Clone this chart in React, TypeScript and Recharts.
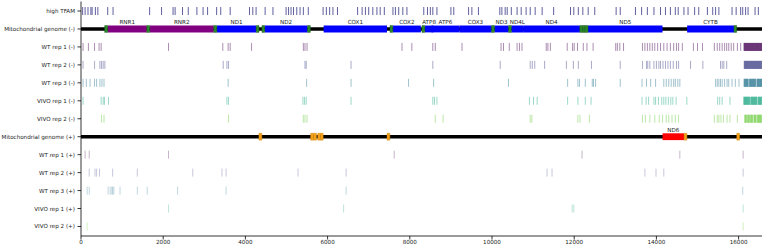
import React from 'react';
import { ScatterChart, Scatter, XAxis, YAxis, ReferenceArea } from 'recharts';

const GENOME_LENGTH = 16569;

const rowLabels = [
  'high TFAM',
  'Mitochondrial genome (-)',
  'WT rep 1 (-)',
  'WT rep 2 (-)',
  'WT rep 3 (-)',
  'VIVO rep 1 (-)',
  'VIVO rep 2 (-)',
  'Mitochondrial genome (+)',
  'WT rep 1 (+)',
  'WT rep 2 (+)',
  'WT rep 3 (+)',
  'VIVO rep 1 (+)',
  'VIVO rep 2 (+)',
];

const xTicks = [0, 2000, 4000, 6000, 8000, 10000, 12000, 14000, 16000];

const highTfam = [
  40, 100, 170, 240, 270, 350, 410, 650, 780, 1670, 1960, 2240, 2290, 2470, 2610, 2820, 2970, 3080,
  3300, 3400, 3630, 4100, 4180, 4260, 4480, 4670, 4990, 5050, 5110, 5170, 5250, 5330, 5410, 5530,
  5890, 5970, 6050, 6130, 6240, 6730, 6840, 6920, 7000, 7100, 7200, 7280, 7380, 7590, 7650, 7730,
  7830, 7930, 8340, 8430, 8500, 8560, 8660, 9000, 9070, 9430, 9510, 9670, 10190, 10240, 10320,
  10370, 10470, 10610, 10710, 10830, 10930, 11050, 11220, 11500, 11910, 11990, 12100, 12210, 12340,
  12500, 13020, 13120, 13490, 13640, 13780, 13940, 14100, 14220, 14340, 14460, 14530, 14670, 14770,
  14930, 15030, 15240, 15370, 15440, 15520, 15840, 15940, 16050, 16100, 16170, 16230, 16400, 16480,
];

const wtRep1Minus = [
  50, 180, 330, 440, 490, 2130, 3450, 3580, 3630, 4150, 5410, 5450, 5500, 7810, 8050, 8560, 8620,
  9270, 10220, 10280, 10420, 10610, 10670, 10730, 11320, 11360, 11420, 11830, 11960, 12000, 12080,
  12220, 12310, 12460, 13010, 13050, 13110, 13200, 13660, 13720, 13780, 13840, 13900, 13960, 14030,
  14100, 14180, 14260, 14340, 14420, 14490, 14540, 14630, 14900, 15000, 15120, 15410, 15480, 15540,
  15600, 15660, 15710, 15760, 15820, 15880, 15970, 16050,
  16130, 16138, 16146, 16155, 16163, 16172, 16180, 16188, 16196, 16205, 16214, 16222, 16230, 16240,
  16248, 16256, 16265, 16274, 16282, 16290, 16300, 16308, 16316, 16325, 16334, 16342, 16350, 16360,
  16368, 16376, 16385, 16394, 16402, 16410, 16420, 16428, 16436, 16445, 16454, 16462, 16470, 16480,
  16488, 16496, 16505, 16514, 16522, 16530, 16540, 16548, 16556, 16563,
];

const wtRep2Minus = [
  50, 330, 460, 500, 540, 580, 3460, 3550, 3590, 5450, 5480, 6570, 8560, 10200, 10930, 10980, 11040,
  11280, 11810, 11980, 12100, 12420, 13120, 13660, 13760, 13790, 13840, 13940, 14000, 14060, 14100,
  14160, 14220, 14280, 14340, 14410, 14490, 14540, 14830, 15130, 15560, 15600, 15640, 15710,
  16135, 16143, 16152, 16160, 16168, 16177, 16186, 16194, 16202, 16212, 16220, 16228, 16238, 16246,
  16254, 16263, 16272, 16280, 16290, 16298, 16306, 16315, 16324, 16332, 16340, 16350, 16358, 16366,
  16375, 16384, 16392, 16400, 16410, 16418, 16426, 16435, 16444, 16452, 16460, 16470, 16478, 16486,
  16495, 16504, 16512, 16520, 16530, 16538, 16546, 16555, 16562,
];

const wtRep3Minus = [
  50, 130, 220, 330, 380, 460, 510, 560, 3580, 5490, 6570, 7970, 8580, 10400, 11840, 12090, 12130,
  12270, 12440, 12470, 12520, 13120, 13650, 13760, 13860, 13980, 14180, 14240, 14300, 14360, 14420,
  14460, 14520, 14570, 15440, 15480, 15520, 15560, 15600, 15660, 15720, 15760, 15840, 15920, 16010,
  16132, 16140, 16149, 16158, 16166, 16175, 16184, 16192, 16200, 16210, 16218, 16226, 16235, 16262,
  16270, 16279, 16288, 16296, 16305, 16313, 16322, 16330, 16340, 16348, 16356, 16365, 16374, 16382,
  16390, 16400, 16408, 16418, 16445, 16454, 16462, 16470, 16480, 16488, 16497, 16505, 16514, 16523,
  16532, 16540, 16549, 16556, 16563,
];

const vivoRep1Minus = [
  50, 490, 540, 570, 670, 3550, 3590, 5400, 5440, 5480, 6570, 8560, 8600, 8660, 10910, 11010, 11100,
  11840, 12090, 12270, 12410, 13650, 13750, 13810, 13940, 13980, 14050, 14130, 14180, 14230, 14290,
  14350, 14400, 14480, 14740, 15490, 15540, 15600, 15790,
  16125, 16133, 16142, 16150, 16158, 16167, 16176, 16184, 16192, 16202, 16210, 16218, 16228, 16236,
  16244, 16255, 16262, 16270, 16294, 16302, 16310, 16320, 16328, 16336, 16346, 16354, 16362, 16372,
  16380, 16388, 16398, 16406, 16414, 16424, 16432, 16440, 16450, 16476, 16484, 16492, 16502, 16510,
  16518, 16528, 16536, 16544, 16554, 16562,
];

const vivoRep2Minus = [
  500, 560, 3590, 5410, 5450, 5500, 8620, 8810, 10930, 10970, 12090, 12140, 12370, 13660, 13730,
  13840, 13960, 14070, 14150, 14240, 14300, 14380, 14460, 14540, 15410, 15480, 15520, 15570, 15630,
  15720, 15790, 15970,
  16150, 16158, 16166, 16176, 16186, 16194, 16220, 16228, 16236, 16246, 16256, 16264, 16290, 16298,
  16306, 16316, 16326, 16334, 16346, 16374, 16382, 16390, 16400, 16410, 16418, 16430, 16458, 16466,
  16474, 16484, 16494, 16502, 16510, 16520, 16530, 16540, 16548, 16556,
];

const wtRep1Plus = [100, 200, 2130, 7620, 12190, 14570, 16110];
const wtRep2Plus = [200, 340, 380, 450, 770, 1370, 2720, 3430, 3530, 5280, 6450, 11340, 11460, 13720, 13990, 14180, 16110];
const wtRep3Plus = [150, 200, 660, 710, 750, 770, 800, 950, 1370, 1610, 2350, 3530, 6450, 16100];
const vivoRep1Plus = [2130, 6390, 11950, 11990, 16110];
const vivoRep2Plus = [150, 16110];

// Heavy-strand features (drawn on the "(-)" genome row)
const rrnaGenes = [
  { name: 'RNR1', start: 648, end: 1601 },
  { name: 'RNR2', start: 1671, end: 3229 },
];
const heavyProteinGenes = [
  { name: 'ND1', start: 3307, end: 4262 },
  { name: 'ND2', start: 4470, end: 5511 },
  { name: 'COX1', start: 5904, end: 7445 },
  { name: 'COX2', start: 7586, end: 8269 },
  { name: 'ATP8', start: 8366, end: 8572 },
  { name: 'ATP6', start: 8527, end: 9207 },
  { name: 'COX3', start: 9207, end: 9990 },
  { name: 'ND3', start: 10059, end: 10404 },
  { name: 'ND4L', start: 10470, end: 10766 },
  { name: 'ND4', start: 10760, end: 12137 },
  { name: 'ND5', start: 12337, end: 14148 },
  { name: 'CYTB', start: 14747, end: 15887 },
];
const heavyTrnaStarts = [577, 1602, 3230, 4263, 4402, 5512, 7518, 8295, 9991, 10405, 12138, 12207, 12266, 15888];
const heavyTrnaEnds = [647, 1670, 3304, 4331, 4469, 5579, 7585, 8364, 10058, 10469, 12206, 12265, 12336, 15953];

// Light-strand features (drawn on the "(+)" genome row)
const lightGenes = [{ name: 'ND6', start: 14149, end: 14673 }];
const lightTrnaStarts = [4329, 5587, 5657, 5761, 5826, 7446, 14674, 15956];
const lightTrnaEnds = [4400, 5655, 5729, 5826, 5891, 7514, 14742, 16023];

const tracks = [
  { row: 0, values: highTfam, color: '#1c1c78', opacity: 0.7 },
  { row: 2, values: wtRep1Minus, color: '#440154', opacity: 0.45 },
  { row: 3, values: wtRep2Minus, color: '#414487', opacity: 0.45 },
  { row: 4, values: wtRep3Minus, color: '#2a788e', opacity: 0.45 },
  { row: 5, values: vivoRep1Minus, color: '#22a884', opacity: 0.45 },
  { row: 6, values: vivoRep2Minus, color: '#7ad151', opacity: 0.5 },
  { row: 8, values: wtRep1Plus, color: '#440154', opacity: 0.3 },
  { row: 9, values: wtRep2Plus, color: '#414487', opacity: 0.3 },
  { row: 10, values: wtRep3Plus, color: '#2a788e', opacity: 0.3 },
  { row: 11, values: vivoRep1Plus, color: '#22a884', opacity: 0.3 },
  { row: 12, values: vivoRep2Plus, color: '#7ad151', opacity: 0.35 },
];

const makeTick = (color: string, opacity: number) => (p: any) => (
  <line
    x1={p.cx}
    x2={p.cx}
    y1={p.cy - 4}
    y2={p.cy + 4}
    stroke={color}
    strokeOpacity={opacity}
    strokeWidth={1}
  />
);

const FONT = 'DejaVu Sans, sans-serif';
const FS = 5.6;
const MINUS_ROW = 1;
const PLUS_ROW = 7;
const GENE_HALF = 0.19;
const LINE_HALF = 0.1;
const TRNA_GREEN = '#2a8a2a';
const TRNA_ORANGE = '#f5a11c';

const geneLabel = (name: string) => ({
  value: name,
  position: 'top' as const,
  offset: 1.5,
  fontSize: FS,
  fill: '#222',
  fontFamily: FONT,
});

const YTick = (props: any) => {
  const { x, y, payload } = props;
  return (
    <text x={x} y={y} dy="0.36em" textAnchor="end" fontSize={FS} fill="#222" fontFamily={FONT}>
      {rowLabels[payload.value]}
    </text>
  );
};

export default function App() {
  return (
    <div style={{ position: 'absolute', left: 0, top: 0, width: 764, height: 246, background: '#fff' }}>
      <ScatterChart
        width={764}
        height={246}
        margin={{ top: 1.5, right: 2, bottom: 0, left: 0 }}
        style={{ fontFamily: FONT }}
      >
        <XAxis
          type="number"
          dataKey="x"
          domain={[0, GENOME_LENGTH]}
          ticks={xTicks}
          allowDataOverflow
          height={10}
          tickSize={3.5}
          tickMargin={0.5}
          stroke="#000"
          strokeWidth={0.8}
          tick={{ fontSize: FS, fill: '#222', fontFamily: FONT }}
          interval={0}
        />
        <YAxis
          type="number"
          dataKey="y"
          domain={[-0.53, 12.53]}
          reversed
          ticks={rowLabels.map((_, i) => i)}
          width={81}
          tickSize={3.5}
          tickMargin={2.5}
          stroke="#000"
          strokeWidth={0.8}
          interval={0}
          allowDataOverflow
          tick={<YTick />}
        />

        {/* genome backbone lines */}
        <ReferenceArea x1={0} x2={GENOME_LENGTH} y1={MINUS_ROW - LINE_HALF} y2={MINUS_ROW + LINE_HALF} fill="#000" fillOpacity={1} stroke="none" />
        <ReferenceArea x1={0} x2={GENOME_LENGTH} y1={PLUS_ROW - LINE_HALF} y2={PLUS_ROW + LINE_HALF} fill="#000" fillOpacity={1} stroke="none" />

        {rrnaGenes.map((g) => (
          <ReferenceArea
            key={g.name}
            x1={g.start}
            x2={g.end}
            y1={MINUS_ROW - GENE_HALF}
            y2={MINUS_ROW + GENE_HALF}
            fill="#800080"
            fillOpacity={1}
            stroke="none"
            label={geneLabel(g.name)}
          />
        ))}
        {heavyProteinGenes.map((g) => (
          <ReferenceArea
            key={g.name}
            x1={g.start}
            x2={g.end}
            y1={MINUS_ROW - GENE_HALF}
            y2={MINUS_ROW + GENE_HALF}
            fill="#0000ff"
            fillOpacity={1}
            stroke="none"
            label={geneLabel(g.name)}
          />
        ))}
        {heavyTrnaStarts.map((s, i) => (
          <ReferenceArea
            key={'ht' + i}
            x1={s}
            x2={heavyTrnaEnds[i]}
            y1={MINUS_ROW - GENE_HALF}
            y2={MINUS_ROW + GENE_HALF}
            fill={TRNA_GREEN}
            fillOpacity={1}
            stroke="#1d5e1d"
            strokeWidth={0.5}
          />
        ))}
        {lightGenes.map((g) => (
          <ReferenceArea
            key={g.name}
            x1={g.start}
            x2={g.end}
            y1={PLUS_ROW - GENE_HALF}
            y2={PLUS_ROW + GENE_HALF}
            fill="#ff0000"
            fillOpacity={1}
            stroke="none"
            label={geneLabel(g.name)}
          />
        ))}
        {lightTrnaStarts.map((s, i) => (
          <ReferenceArea
            key={'lt' + i}
            x1={s}
            x2={lightTrnaEnds[i]}
            y1={PLUS_ROW - GENE_HALF}
            y2={PLUS_ROW + GENE_HALF}
            fill={TRNA_ORANGE}
            fillOpacity={1}
            stroke="#d08a10"
            strokeWidth={0.5}
          />
        ))}

        {tracks.map((t) => (
          <Scatter
            key={t.row}
            data={t.values.map((x) => ({ x, y: t.row }))}
            shape={makeTick(t.color, t.opacity)}
            isAnimationActive={false}
          />
        ))}
      </ScatterChart>
    </div>
  );
}
